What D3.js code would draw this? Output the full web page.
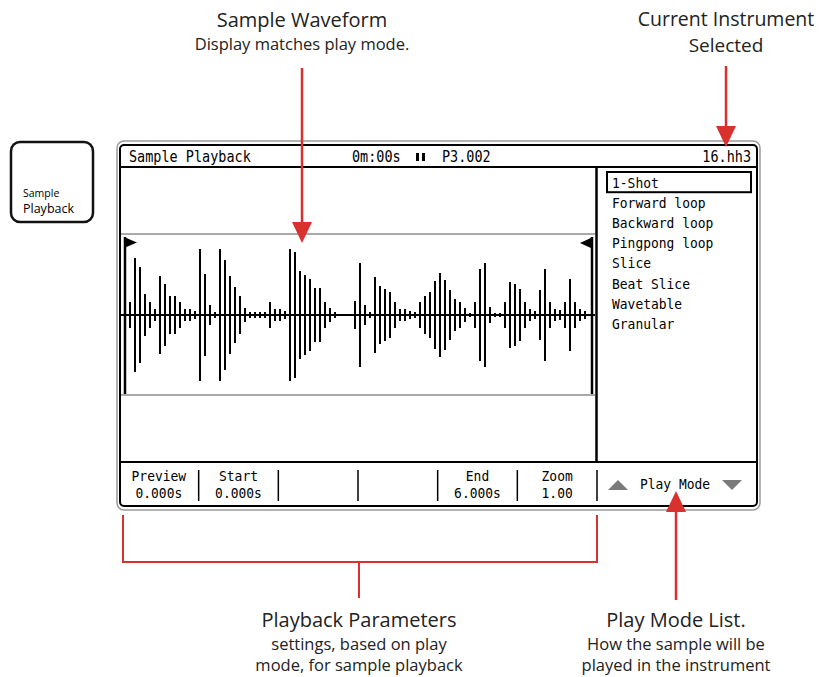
<!DOCTYPE html>
<html>
<head>
<meta charset="utf-8">
<script src="https://cdn.jsdelivr.net/npm/d3@7"></script>
<style>
  body { margin: 0; background: #fff; }
</style>
</head>
<body>
<script>
// waveform bar amplitudes (px above/below the centre line)
const amplitudes = [
  13, 57, 48, 21, 13, 6, 39, 31, 19, 19, 13, 6, 6, 4, 66, 41, 10, 3, 66, 55,
  39, 28, 19, 7, 3, 3, 3, 3, 13, 6, 6, 4, 66, 63, 44, 40, 36, 27, 27, 13,
  7, 3, 1, 1, 1, 14, 52, 10, 3, 38, 29, 26, 23, 13, 6, 6, 4, 3, 13, 19,
  23, 34, 42, 35, 25, 16, 13, 7, 2, 13, 46, 52, 8, 2, 2, 13, 33, 31, 26, 13,
  6, 4, 25, 46, 13, 6, 5, 13, 36, 13, 6, 4
];
const playModes = ["1-Shot", "Forward loop", "Backward loop", "Pingpong loop",
  "Slice", "Beat Slice", "Wavetable", "Granular"];
const selectedMode = "1-Shot";
const paramLabels = ["Preview", "Start", "", "", "End", "Zoom"];
const paramValues = ["0.000s", "0.000s", "", "", "6.000s", "1.00"];
const headerTitle = "Sample Playback";
const headerTime = "0m:00s";
const headerPattern = "P3.002";
const headerInstrument = "16.hh3";

const width = 822, height = 677;
const red = "#d8312e";
const mono = "'DejaVu Sans Mono', monospace";
const sans = "'Open Sans', 'Liberation Sans', Arial, sans-serif";

const svg = d3.select("body").append("svg")
  .attr("width", width)
  .attr("height", height)
  .attr("viewBox", [0, 0, width, height]);

// ---- left hardware button
svg.append("rect")
  .attr("x", 11).attr("y", 142).attr("width", 82).attr("height", 80)
  .attr("rx", 9).attr("fill", "#fff").attr("stroke", "#111").attr("stroke-width", 2.5);
svg.append("text").attr("x", 23).attr("y", 197)
  .attr("font-family", sans).attr("font-size", 10.5).text("Sample");
svg.append("text").attr("x", 23).attr("y", 213)
  .attr("font-family", sans).attr("font-size", 12.5).text("Playback");

// ---- screen frame
svg.append("rect")
  .attr("x", 117).attr("y", 141).attr("width", 643).attr("height", 369)
  .attr("rx", 7).attr("fill", "none").attr("stroke", "#9a9a9a").attr("stroke-width", 1.5);
svg.append("rect")
  .attr("x", 120).attr("y", 145).attr("width", 637).attr("height", 361)
  .attr("rx", 4).attr("fill", "#fff").attr("stroke", "#000").attr("stroke-width", 2);

const hline = (y, x1, x2, w, c) => svg.append("line")
  .attr("x1", x1).attr("x2", x2).attr("y1", y).attr("y2", y)
  .attr("stroke", c || "#000").attr("stroke-width", w);
const vline = (x, y1, y2, w, c) => svg.append("line")
  .attr("x1", x).attr("x2", x).attr("y1", y1).attr("y2", y2)
  .attr("stroke", c || "#000").attr("stroke-width", w);

hline(167, 120, 757, 2);
hline(462, 120, 757, 2);
vline(596.5, 167, 462, 2.5);

// header (mono text, slightly condensed like the device font)
const monoText = (g, tx, ty, s, anchor) => g.append("text")
  .attr("transform", `translate(${tx},${ty}) scale(0.9,1)`)
  .attr("text-anchor", anchor || "start")
  .text(s);
const header = svg.append("g").attr("font-family", mono).attr("font-size", 15);
monoText(header, 129, 162, headerTitle);
monoText(header, 352, 162, headerTime);
header.append("rect").attr("x", 416).attr("y", 153).attr("width", 3).attr("height", 8);
header.append("rect").attr("x", 422).attr("y", 153).attr("width", 3).attr("height", 8);
monoText(header, 442, 162, headerPattern);
monoText(header, 751, 162, headerInstrument, "end");

// ---- waveform
const x = d3.scaleLinear().domain([0, amplitudes.length - 1]).range([130, 585]);
const y = d3.scaleLinear().domain([-70, 70]).range([385, 245]);

hline(234, 121, 595, 1, "#555");
hline(395, 121, 595, 1, "#555");
hline(y(0), 121, 595, 2);

svg.append("g").selectAll("line")
  .data(amplitudes)
  .join("line")
  .attr("x1", (d, i) => x(i)).attr("x2", (d, i) => x(i))
  .attr("y1", d => y(d)).attr("y2", d => y(-d))
  .attr("stroke", "#000").attr("stroke-width", 2);

// start / end flags
vline(125, 237, 394, 2.5);
svg.append("path").attr("d", "M124,237L137,242.5L124,248Z");
vline(592, 237, 394, 2.5);
svg.append("path").attr("d", "M593,237L580,243L593,249Z");

// ---- play mode list
const ly = d3.scaleBand().domain(playModes).range([172, 333.6]);
svg.append("rect")
  .attr("x", 607).attr("y", ly(selectedMode)).attr("width", 144).attr("height", ly.bandwidth())
  .attr("fill", "none").attr("stroke", "#000").attr("stroke-width", 2);
const list = svg.append("g").attr("font-family", mono).attr("font-size", 14.4);
playModes.forEach(d => monoText(list, 612, ly(d) + 15.5, d));

// ---- parameter bar
const px = d3.scaleBand().domain(d3.range(paramLabels.length)).range([119, 597]);
const params = svg.append("g").attr("font-family", mono).attr("font-size", 14.4);
paramLabels.forEach((d, i) => monoText(params, px(i) + px.bandwidth() / 2, 481, d, "middle"));
paramValues.forEach((d, i) => monoText(params, px(i) + px.bandwidth() / 2, 498, d, "middle"));
svg.append("g").selectAll("line")
  .data(d3.range(paramLabels.length))
  .join("line")
  .attr("x1", i => px(i) + px.bandwidth()).attr("x2", i => px(i) + px.bandwidth())
  .attr("y1", 470).attr("y2", 501)
  .attr("stroke", "#000").attr("stroke-width", 1.5);

// play mode selector
svg.append("path").attr("d", "M608,490L618,480L628,490Z").attr("fill", "#7a7a7a");
svg.append("path").attr("d", "M722,480L742,480L732,490Z").attr("fill", "#7a7a7a");
monoText(svg.append("g").attr("font-family", mono).attr("font-size", 14.4), 675, 489, "Play Mode", "middle");

// ---- annotations
const ann = svg.append("g").attr("fill", red).attr("stroke", red);
ann.append("line").attr("x1", 302).attr("x2", 302).attr("y1", 68).attr("y2", 225).attr("stroke-width", 2.5);
ann.append("path").attr("d", "M292,222L312,222L302,243Z").attr("stroke", "none");
ann.append("line").attr("x1", 726).attr("x2", 726).attr("y1", 66).attr("y2", 128).attr("stroke-width", 2.5);
ann.append("path").attr("d", "M716,126L736,126L726,147Z").attr("stroke", "none");
ann.append("line").attr("x1", 676).attr("x2", 676).attr("y1", 508).attr("y2", 600).attr("stroke-width", 2.5);
ann.append("path").attr("d", "M666,512L686,512L676,491Z").attr("stroke", "none");
ann.append("path").attr("d", "M123,515V562H597V515").attr("fill", "none").attr("stroke-width", 2);
ann.append("line").attr("x1", 359).attr("x2", 359).attr("y1", 562).attr("y2", 598).attr("stroke-width", 2);

const label = (cx, lines) => {
  const g = svg.append("g").attr("font-family", sans).attr("text-anchor", "middle").attr("fill", "#222");
  lines.forEach(l => g.append("text").attr("x", cx).attr("y", l[1]).attr("font-size", l[2]).text(l[0]));
};
label(302, [["Sample Waveform", 27, 20], ["Display matches play mode.", 50, 16.5]]);
label(726, [["Current Instrument", 26, 19.5], ["Selected", 52, 19]]);
label(359, [["Playback Parameters", 627, 20], ["settings, based on play", 650, 16.5], ["mode, for sample playback", 671, 16.5]]);
label(676, [["Play Mode List.", 627, 20], ["How the sample will be", 650, 16.5], ["played in the instrument", 671, 16.5]]);
</script>
</body>
</html>
